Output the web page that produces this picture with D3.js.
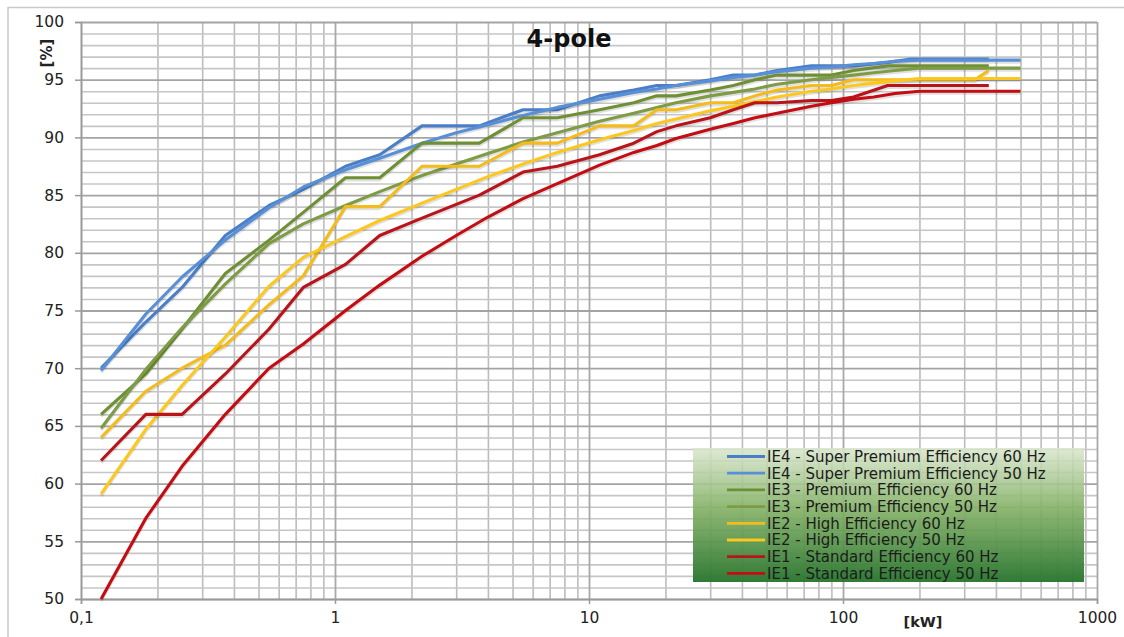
<!DOCTYPE html>
<html><head><meta charset="utf-8">
<script src="https://cdn.jsdelivr.net/npm/d3@7"></script>
<style>
html,body{margin:0;padding:0;background:#fff;}
svg{display:block;}
text{font-family:"DejaVu Sans",Verdana,sans-serif;}
</style></head>
<body>
<svg id="chart" width="1124" height="637"></svg>
<script>
// ---- data ----
const kW50 = [0.12,0.18,0.25,0.37,0.55,0.75,1.1,1.5,2.2,3,4,5.5,7.5,11,15,18.5,22,30,37,45,55,75,90,110,132,160,200,250,315,355,400,500];
const kW60 = [0.12,0.18,0.25,0.37,0.55,0.75,1.1,1.5,2.2,3.7,5.5,7.5,11,15,18.5,22,30,37,45,55,75,90,110,150,185,220,250,300,330,375];

const IE4_60 = [70.0,74.0,77.0,81.5,84.1,85.5,87.5,88.5,91.0,91.0,92.4,92.4,93.6,94.1,94.5,94.5,95.0,95.4,95.4,95.8,96.2,96.2,96.2,96.5,96.8,96.8,96.8,96.8,96.8,96.8];
const IE4_50 = [69.8,74.7,77.9,81.1,83.9,85.7,87.2,88.2,89.5,90.4,91.1,91.9,92.6,93.3,93.9,94.2,94.5,94.9,95.2,95.4,95.7,96.0,96.1,96.3,96.4,96.6,96.7,96.7,96.7,96.7,96.7,96.7];
const IE3_60 = [66.0,69.5,73.4,78.2,81.1,83.5,86.5,86.5,89.5,89.5,91.7,91.7,92.4,93.0,93.6,93.6,94.1,94.5,95.0,95.4,95.4,95.4,95.8,96.2,96.2,96.2,96.2,96.2,96.2,96.2];
const IE3_50 = [64.8,69.9,73.5,77.3,80.8,82.5,84.1,85.3,86.7,87.7,88.6,89.6,90.4,91.4,92.1,92.6,93.0,93.6,93.9,94.2,94.6,95.0,95.2,95.4,95.6,95.8,96.0,96.0,96.0,96.0,96.0,96.0];
const IE2_60 = [64.0,68.0,70.0,72.0,75.5,78.0,84.0,84.0,87.5,87.5,89.5,89.5,91.0,91.0,92.4,92.4,93.0,93.0,93.6,94.1,94.5,94.5,95.0,95.0,95.0,95.0,95.0,95.0,95.0,95.8];
const IE2_50 = [59.1,64.7,68.5,72.7,77.1,79.6,81.4,82.8,84.3,85.5,86.6,87.7,88.7,89.8,90.6,91.2,91.6,92.3,92.7,93.1,93.5,94.0,94.2,94.5,94.7,94.9,95.1,95.1,95.1,95.1,95.1,95.1];
const IE1_60 = [62.0,66.0,66.0,69.5,73.4,77.0,79.0,81.5,83.0,85.0,87.0,87.5,88.5,89.5,90.5,91.0,91.7,92.4,93.0,93.0,93.2,93.2,93.5,94.5,94.5,94.5,94.5,94.5,94.5,94.5];
const IE1_50 = [50.0,57.0,61.5,66.0,70.0,72.1,75.0,77.2,79.7,81.5,83.1,84.7,86.0,87.6,88.7,89.3,89.9,90.7,91.2,91.7,92.1,92.7,93.0,93.3,93.5,93.8,94.0,94.0,94.0,94.0,94.0,94.0];

const seriesNames = [
  "IE4 - Super Premium Efficiency 60 Hz",
  "IE4 - Super Premium Efficiency 50 Hz",
  "IE3 - Premium Efficiency 60 Hz",
  "IE3 - Premium Efficiency 50 Hz",
  "IE2 - High Efficiency 60 Hz",
  "IE2 - High Efficiency 50 Hz",
  "IE1 - Standard Efficiency 60 Hz",
  "IE1 - Standard Efficiency 50 Hz"
];
const seriesX = [kW60,kW50,kW60,kW50,kW60,kW50,kW60,kW50];
const seriesY = [IE4_60,IE4_50,IE3_60,IE3_50,IE2_60,IE2_50,IE1_60,IE1_50];
const seriesColors = ["#4a7fc8","#5790d6","#6f8f35","#7e9b45","#f4bb1c","#fcc71e","#b8141a","#c30d12"];

const xTicks = [0.1,1,10,100,1000];
const xTickLabels = ["0,1","1","10","100","1000"];
const yTicks = [50,55,60,65,70,75,80,85,90,95,100];
const title = "4-pole";
const xLabel = "[kW]";
const yLabel = "[%]";

// ---- layout ----
const svg = d3.select("#chart");
const L = 81, R = 1097, T = 22, B = 599;
const x = d3.scaleLog().domain([0.1,1000]).range([L,R]);
const y = d3.scaleLinear().domain([50,100]).range([B,T]);

// outer frame (top and left edge of the pasted image)
svg.append("line").attr("x1",8).attr("x2",1124).attr("y1",7.5).attr("y2",7.5).attr("stroke","#c9c9c9").attr("stroke-width",1.5);
svg.append("line").attr("x1",8).attr("x2",8).attr("y1",7).attr("y2",637).attr("stroke","#c9c9c9").attr("stroke-width",1.5);

// grid
const minorX = [];
for (let d = 0.1; d < 1000; d *= 10) for (let k = 2; k <= 9; k++) minorX.push(+(d*k).toPrecision(3));
const minorY = d3.range(51,100).filter(v => v % 5 !== 0);

svg.append("g").attr("transform",`translate(0,${B})`)
  .call(d3.axisBottom(x).tickValues(minorX).tickSize(-(B-T)).tickFormat(""))
  .call(g => g.select(".domain").remove())
  .call(g => g.selectAll("line").attr("stroke","#bcbcbc").attr("stroke-width",1.6));
svg.append("g").attr("transform",`translate(${L},0)`)
  .call(d3.axisLeft(y).tickValues(minorY).tickSize(-(R-L)).tickFormat(""))
  .call(g => g.select(".domain").remove())
  .call(g => g.selectAll("line").attr("stroke","#c6c6c6").attr("stroke-width",1.6));
svg.append("g").attr("transform",`translate(0,${B})`)
  .call(d3.axisBottom(x).tickValues(xTicks).tickSize(-(B-T)).tickFormat(""))
  .call(g => g.select(".domain").remove())
  .call(g => g.selectAll("line").attr("stroke","#a9a9a9").attr("stroke-width",1.8));
svg.append("g").attr("transform",`translate(${L},0)`)
  .call(d3.axisLeft(y).tickValues(yTicks).tickSize(-(R-L)).tickFormat(""))
  .call(g => g.select(".domain").remove())
  .call(g => g.selectAll("line").attr("stroke","#a4a4a4").attr("stroke-width",1.8));

// axes
const yAxis = svg.append("g").attr("transform",`translate(${L},0)`)
  .call(d3.axisLeft(y).tickValues(yTicks).tickSize(6).tickPadding(11).tickFormat(d3.format("d")));
yAxis.select(".domain").attr("stroke","#9a9a9a").attr("stroke-width",1.5);
yAxis.selectAll(".tick line").attr("stroke","#9a9a9a").attr("stroke-width",1.5);
yAxis.selectAll("text").attr("font-size",15.5).attr("fill","#222").attr("font-family","DejaVu Sans");

const xAxis = svg.append("g").attr("transform",`translate(0,${B})`)
  .call(d3.axisBottom(x).tickValues(xTicks).tickSize(5).tickPadding(8).tickFormat((d,i) => xTickLabels[i]));
xAxis.select(".domain").attr("stroke","#9a9a9a").attr("stroke-width",1.5);
xAxis.selectAll(".tick line").attr("stroke","#9a9a9a").attr("stroke-width",1.5);
xAxis.selectAll("text").attr("font-size",15.5).attr("fill","#222").attr("font-family","DejaVu Sans");

// series
const line = d3.line().x(d => x(d[0])).y(d => y(d[1]));
seriesY.forEach((vals, i) => {
  const pts = vals.map((v, j) => [seriesX[i][j], v]);
  svg.append("path").datum(pts).attr("d", line)
    .attr("fill","none").attr("stroke","rgba(0,0,0,0.12)").attr("stroke-width",3.2)
    .attr("transform","translate(0,2)").attr("stroke-linejoin","round");
  svg.append("path").datum(pts).attr("d", line)
    .attr("fill","none").attr("stroke",seriesColors[i]).attr("stroke-width",3.1)
    .attr("stroke-linejoin","round");
});

// title & axis labels
svg.append("text").attr("x",569).attr("y",47).attr("text-anchor","middle")
  .attr("font-size",24).attr("font-weight","bold").attr("fill","#111").text(title);
svg.append("text").attr("transform","translate(52,53) rotate(-90)").attr("text-anchor","middle")
  .attr("font-size",15).attr("font-weight","bold").attr("fill","#222").text(yLabel);
svg.append("text").attr("x",923).attr("y",627).attr("text-anchor","middle")
  .attr("font-size",14.5).attr("font-weight","bold").attr("fill","#222").text(xLabel);

// legend
const defs = svg.append("defs");
const grad = defs.append("linearGradient").attr("id","lg").attr("x1",0).attr("x2",0).attr("y1",0).attr("y2",1);
grad.append("stop").attr("offset","0%").attr("stop-color","#d9e6cc").attr("stop-opacity",0.85);
grad.append("stop").attr("offset","45%").attr("stop-color","#82b064").attr("stop-opacity",0.9);
grad.append("stop").attr("offset","100%").attr("stop-color","#2a7630").attr("stop-opacity",0.97);
const lgX = 693, lgY = 448, lgW = 391, lgH = 134;
svg.append("rect").attr("x",lgX).attr("y",lgY).attr("width",lgW).attr("height",lgH).attr("fill","url(#lg)");
const rowH = 16.7;
seriesNames.forEach((n, i) => {
  const cy = lgY + 8.5 + i*rowH;
  svg.append("line").attr("x1",727).attr("x2",765).attr("y1",cy).attr("y2",cy)
    .attr("stroke",seriesColors[i]).attr("stroke-width",2.8);
  svg.append("text").attr("x",767).attr("y",cy).attr("dy","0.36em")
    .attr("font-family","Open Sans").attr("font-size",15).attr("fill","#1c1c1c").text(n);
});
</script>
</body></html>
